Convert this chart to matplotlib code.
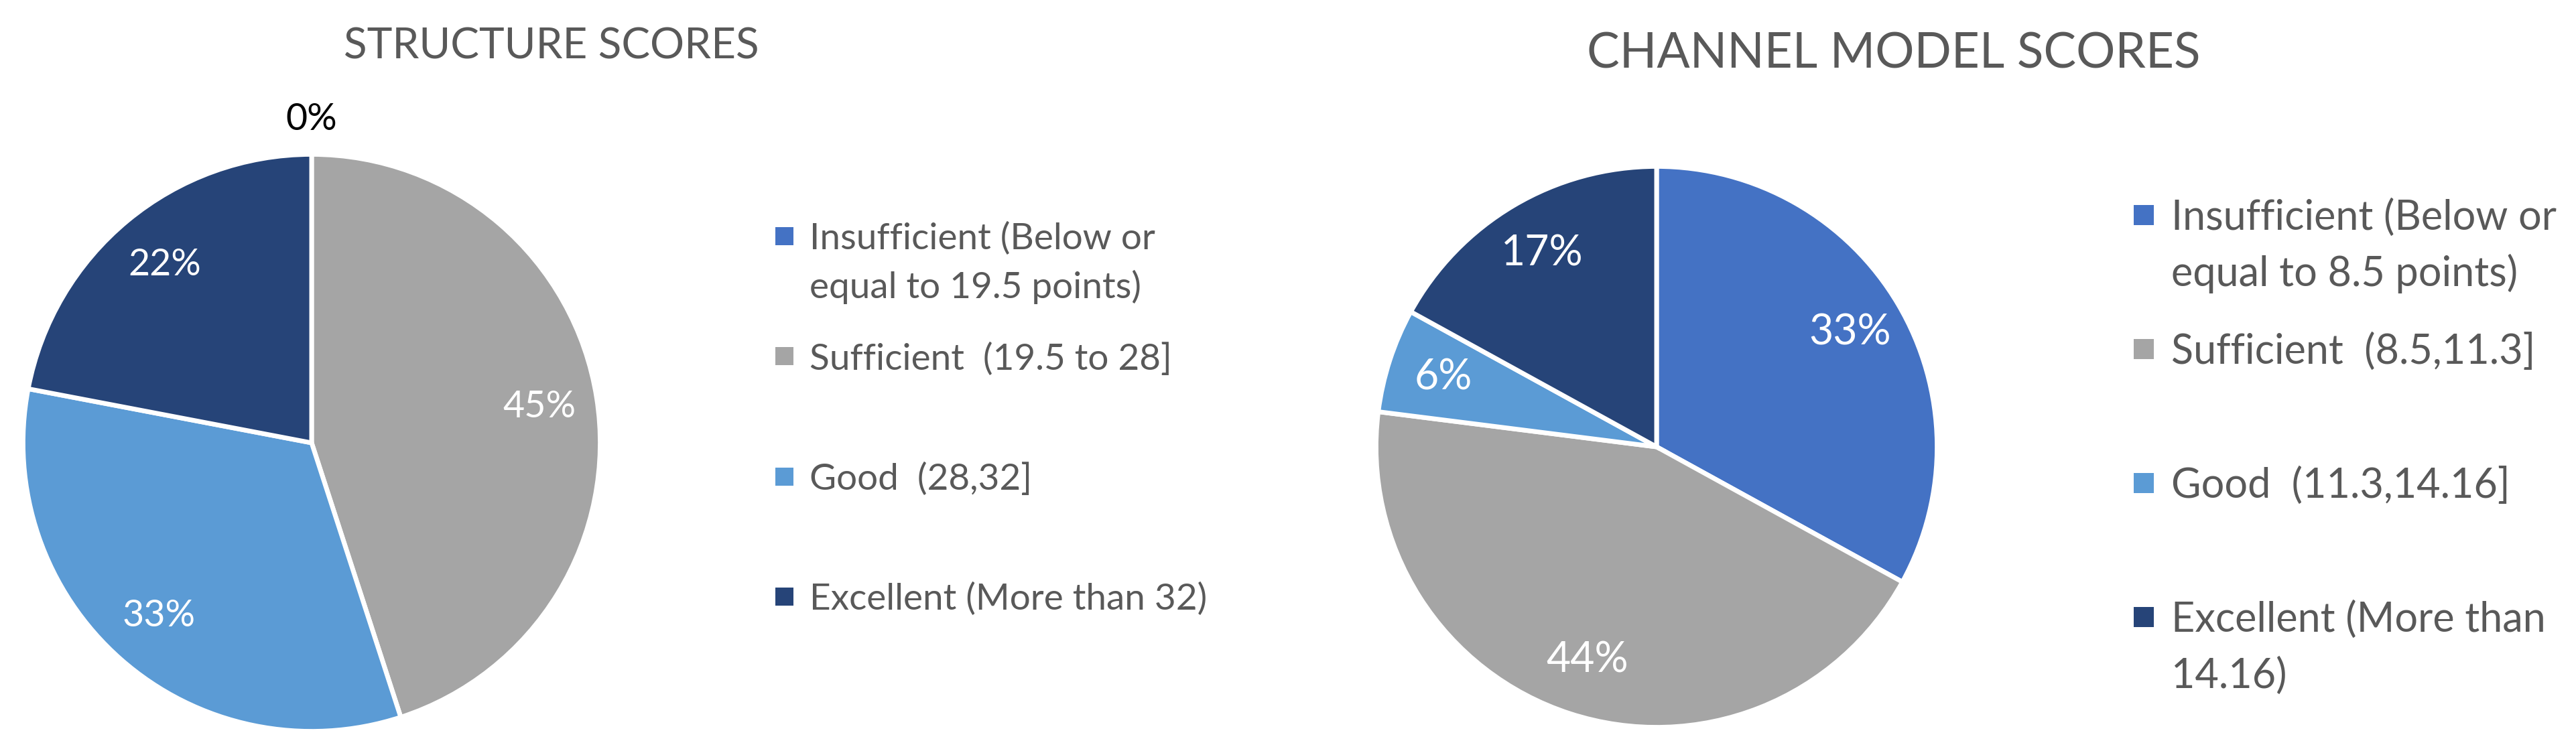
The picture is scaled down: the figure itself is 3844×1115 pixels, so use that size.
import numpy as np
import matplotlib.pyplot as plt
from matplotlib.patches import Rectangle

W, H, DPI = 3844, 1115, 100

categories = ['Insufficient', 'Sufficient', 'Good', 'Excellent']
colors = ['#4472C4', '#A5A5A5', '#5B9BD5', '#264478']

structure_title = 'STRUCTURE SCORES'
structure_pct = [0, 45, 33, 22]
structure_legend = ['Insufficient (Below or\nequal to 19.5 points)',
                    'Sufficient  (19.5 to 28]',
                    'Good  (28,32]',
                    'Excellent (More than 32)']

channel_title = 'CHANNEL MODEL SCORES'
channel_pct = [33, 44, 6, 17]
channel_legend = ['Insufficient (Below or\nequal to 8.5 points)',
                  'Sufficient  (8.5,11.3]',
                  'Good  (11.3,14.16]',
                  'Excellent (More than\n14.16)']

FONT = 'Lato'
TXT = '#595959'
CAP = 0.7165  # Lato cap height / em

fig = plt.figure(figsize=(W / DPI, H / DPI), dpi=DPI)


def fx(x):
    return x / W


def fy(y):
    # pixel rows counted from the top
    return 1 - y / H


def draw_pie(values, cx, cy, r, lab_size):
    lw = 5
    rr = r + lw * 0.72  # edge line eats half its width off the rim
    ax = fig.add_axes([fx(cx - rr), fy(cy + rr), 2 * rr / W, 2 * rr / H])
    wedges, _, autotexts = ax.pie(values, colors=colors, startangle=90, counterclock=False,
                                  autopct=lambda p: f'{p:.0f}%', pctdistance=0.8,
                                  wedgeprops=dict(edgecolor='white', linewidth=lw),
                                  textprops=dict(color='white', fontsize=lab_size, family=FONT))
    for w, t, v in zip(wedges, autotexts, values):
        if v == 0:
            # empty slice: label sits just outside the rim
            a = np.deg2rad((w.theta1 + w.theta2) / 2)
            t.set_position((1.12 * np.cos(a), 1.12 * np.sin(a)))
            t.set_color('black')
    ax.set_xlim(-1, 1)
    ax.set_ylim(-1, 1)
    ax.set_aspect('equal')
    ax.axis('off')


def draw_legend(labels, x_mark, mark, x_text, base0, slot, line_gap, size):
    cap = size / 0.72 * CAP
    for i, (lab, c) in enumerate(zip(labels, colors)):
        base = base0 + i * slot
        y_mid = base - cap / 2
        fig.add_artist(Rectangle((fx(x_mark), fy(y_mid + mark / 2)), mark / W, mark / H,
                                 transform=fig.transFigure, facecolor=c, edgecolor='none'))
        for j, line in enumerate(lab.split('\n')):
            fig.text(fx(x_text), fy(base + j * line_gap), line, ha='left', va='baseline',
                     fontsize=size, color=TXT, family=FONT)


# left chart
fig.text(fx(823), fy(88), structure_title, ha='center', va='baseline',
         fontsize=46, color=TXT, family=FONT)
draw_pie(structure_pct, 465, 661, 427, 40)
draw_legend(structure_legend, 1157, 27, 1208, 372, 179.5, 73, 39.5)

# right chart
fig.text(fx(2826), fy(101), channel_title, ha='center', va='baseline',
         fontsize=52.5, color=TXT, family=FONT)
draw_pie(channel_pct, 2472, 667, 415, 45)
draw_legend(channel_legend, 3184, 30, 3240, 343, 200, 84, 44)

fig.savefig('out.png', dpi=DPI)
